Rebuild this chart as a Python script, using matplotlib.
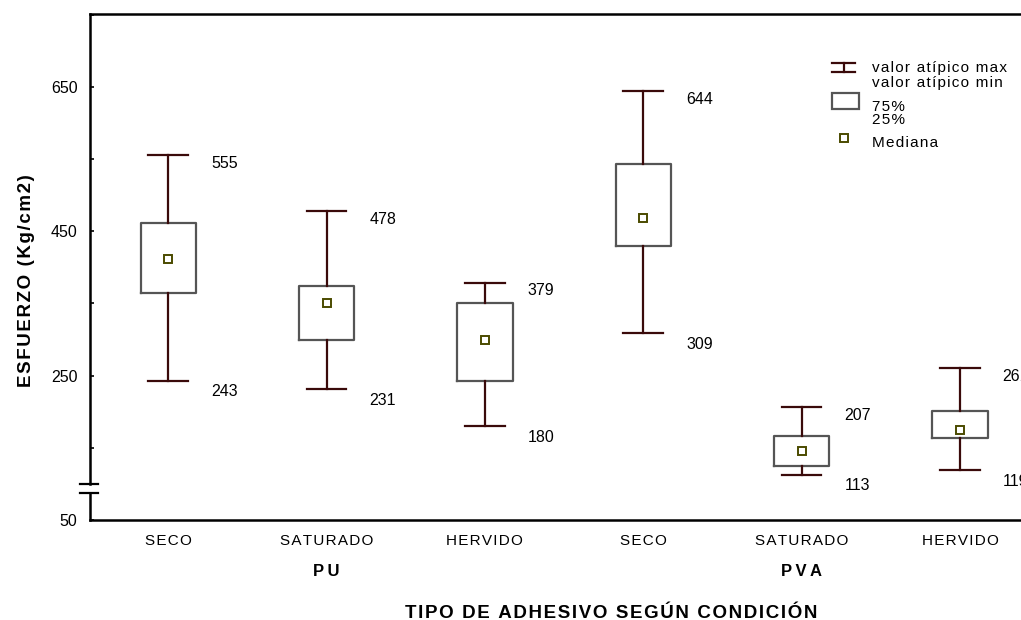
import matplotlib
matplotlib.use("Agg")
import matplotlib.pyplot as plt
from matplotlib.patches import Rectangle
from matplotlib.lines import Line2D
from matplotlib.transforms import blended_transform_factory

plt.rcParams["font.family"] = ["Liberation Sans", "DejaVu Sans"]

# datos (Kg/cm2)
condiciones = ["SECO", "SATURADO", "HERVIDO", "SECO", "SATURADO", "HERVIDO"]
adhesivos = ["PU", "PVA"]
maximos = [555, 478, 379, 644, 207, 261]
minimos = [243, 231, 180, 309, 113, 119]
q75 = [462, 374, 350, 543, 167, 201]
q25 = [365, 300, 243, 429, 125, 163]
medianas = [412, 350, 300, 469, 146, 175]

MAROON = "#3a0a0a"
GREY = "#555555"
OLIVE = "#4b4b00"
HAIR = "\u200a"


def esp(s, sep=HAIR):
    # letras algo separadas, como en el original
    return sep.join(s)


W, H = 1021, 620
fig = plt.figure(figsize=(W / 100, H / 100), dpi=100)
ax = fig.add_axes([90 / W, 1 - 520 / H, 1 - 90 / W + 0.01, 506 / H])

stats = []
for i in range(len(condiciones)):
    stats.append(dict(med=medianas[i], mean=medianas[i], q1=q25[i], q3=q75[i],
                      whislo=minimos[i], whishi=maximos[i], fliers=[]))
pos = list(range(len(condiciones)))
ax.bxp(stats, positions=pos, widths=0.35, capwidths=0.25, showmeans=True,
       showfliers=False, patch_artist=False,
       boxprops=dict(color=GREY, lw=1.6),
       whiskerprops=dict(color=MAROON, lw=1.6),
       capprops=dict(color=MAROON, lw=1.6),
       medianprops=dict(visible=False),
       meanprops=dict(marker="s", markersize=5.5, markerfacecolor="white",
                      markeredgecolor=OLIVE, markeredgewidth=1.4))

# etiquetas de max / min
for i in pos:
    ax.annotate(str(maximos[i]), (i + 0.27, maximos[i]), xytext=(0, -6),
                textcoords="offset points", ha="left", va="center", fontsize=11.5)
    ax.annotate(str(minimos[i]), (i + 0.27, minimos[i]), xytext=(0, -8),
                textcoords="offset points", ha="left", va="center", fontsize=11.5)

ax.set_xlim(-0.494, 5.45)
ax.set_ylim(50, 751)
ax.set_yticks([50, 250, 450, 650])
ax.set_yticks([150, 350, 550, 750], minor=True)
ax.tick_params(axis="y", which="both", direction="in", length=3, width=1.2,
               labelsize=11.5, pad=9)
ax.set_xticks(pos)
ax.set_xticklabels([esp(c) for c in condiciones])
ax.tick_params(axis="x", length=0, labelsize=11, pad=10)

ax.spines["right"].set_visible(False)
ax.spines["top"].set_linewidth(1.8)
ax.spines["bottom"].set_linewidth(1.8)
ax.spines["left"].set_visible(False)

# eje izquierdo con corte
tr = blended_transform_factory(ax.transAxes, ax.transData)
ax.plot([0, 0], [50, 88], color="black", lw=1.8, transform=tr, clip_on=False,
        solid_capstyle="projecting")
ax.plot([0, 0], [100, 751], color="black", lw=1.8, transform=tr, clip_on=False,
        solid_capstyle="projecting")
for yb in (88, 100):
    ax.plot([-10 / 931, 8 / 931], [yb, yb], color="black", lw=1.6,
            transform=tr, clip_on=False)

# grupos de adhesivo
trg = blended_transform_factory(ax.transData, fig.transFigure)
for k, nombre in enumerate(adhesivos):
    fig.text(1 + 3 * k, 1 - 572 / H, esp(nombre, "\u2009"), transform=trg,
             ha="center", va="center", fontsize=12, fontweight="bold")

fig.text(611 / W, 1 - 618 / H, esp("TIPO DE ADHESIVO SEGÚN CONDICIÓN"),
         ha="center", va="baseline", fontsize=13.5, fontweight="bold")
fig.text(31 / W, 1 - 281 / H, esp("ESFUERZO (Kg/cm2)"), rotation=90,
         rotation_mode="anchor", ha="center", va="baseline", fontsize=13.5,
         fontweight="bold")

# leyenda manual
def px(x, y):
    return x / W, 1 - y / H

ft = fig.transFigure
for xs, ys in [((843.5, 843.5), (63, 72)), ((832, 855), (63, 63)), ((832, 855), (72, 72))]:
    fig.add_artist(Line2D([px(x, 0)[0] for x in xs], [px(0, y)[1] for y in ys],
                          color=MAROON, lw=1.6, transform=ft))
x0, y0 = px(832, 109)
fig.add_artist(Rectangle((x0, y0), 27 / W, 16 / H, fill=False, edgecolor=GREY,
                         lw=1.6, transform=ft))
mx, my = px(844, 138)
fig.add_artist(Line2D([mx], [my], marker="s", markersize=5.5, markerfacecolor="white",
                      markeredgecolor=OLIVE, markeredgewidth=1.4, transform=ft))
for txt, yy in [("valor atípico max", 68), ("valor atípico min", 83),
                ("75%", 107), ("25%", 120), ("Mediana", 143)]:
    fig.text(*px(872, yy), esp(txt), ha="left", va="center", fontsize=11)

fig.savefig("out.png", dpi=100, facecolor="white")
